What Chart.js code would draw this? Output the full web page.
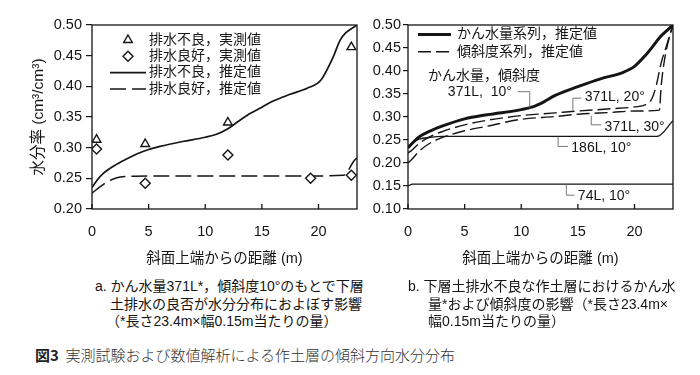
<!DOCTYPE html>
<html>
<head>
<meta charset="utf-8">
<script src="https://cdn.jsdelivr.net/npm/chart.js@4/dist/chart.umd.min.js"></script>
<style>
  body { margin: 0; background: #fff; width: 700px; height: 375px; position: relative; overflow: hidden;
         font-family: "Liberation Sans", "Noto Sans CJK JP", sans-serif; color: #151515; }
  #wrapA { position: absolute; left: 0; top: 0; }
  #wrapB { position: absolute; left: 360px; top: 0; }
  .cap { position: absolute; font-size: 14px; line-height: 17.5px; white-space: nowrap; }
  .fig { position: absolute; left: 35px; top: 345px; font-size: 15px; line-height: 20px; white-space: nowrap;
         font-family: "Noto Sans CJK JP", sans-serif; font-weight: 300; color: #333; }
  .fig b { font-weight: 700; color: #222; }
</style>
</head>
<body>
<div id="wrapA"><canvas id="chartA" width="365" height="270"></canvas></div>
<div id="wrapB"><canvas id="chartB" width="340" height="270"></canvas></div>

<div class="cap" style="left:95px;top:278px">a. かん水量371L*，傾斜度10°のもとで下層</div>
<div class="cap" style="left:110px;top:296px">土排水の良否が水分分布におよぼす影響</div>
<div class="cap" style="left:106px;top:313px">（*長さ23.4m×幅0.15m当たりの量）</div>

<div class="cap" style="left:408px;top:278px">b. 下層土排水不良な作土層におけるかん水</div>
<div class="cap" style="left:428px;top:296px">量*および傾斜度の影響（*長さ23.4m×</div>
<div class="cap" style="left:428px;top:313px">幅0.15m当たりの量）</div>

<div class="fig"><b>図3</b>&nbsp;&nbsp;実測試験および数値解析による作土層の傾斜方向水分分布</div>

<script>
// ---- chart a: drainage comparison (371L, 10 deg) ----
const xTicks = [0, 5, 10, 15, 20];
const yTicksA = [0.20, 0.25, 0.30, 0.35, 0.40, 0.45, 0.50];
const yTicksB = [0.10, 0.15, 0.20, 0.25, 0.30, 0.35, 0.40, 0.45, 0.50];

const measPoorX = [0.4, 4.7, 12.0, 22.9];
const measPoorY = [0.313, 0.306, 0.341, 0.464];
const measGoodX = [0.4, 4.7, 12.0, 19.3, 22.9];
const measGoodY = [0.298, 0.242, 0.288, 0.250, 0.255];

const estPoorX = [0, 0.5, 1, 2, 3, 4, 5, 6, 8, 10, 11, 12, 13, 14, 15, 16, 17.5, 19, 20.2, 21.3, 21.9, 22.4, 23.4];
const estPoorY = [0.235, 0.248, 0.258, 0.271, 0.281, 0.290, 0.297, 0.302, 0.310, 0.317, 0.322, 0.331, 0.344, 0.356, 0.366, 0.376, 0.387, 0.397, 0.410, 0.448, 0.475, 0.487, 0.500];
const estGoodX = [0, 0.7, 1.3, 2.2, 3, 5, 10, 15, 20, 22.2, 23.2, 23.4];
const estGoodY = [0.226, 0.236, 0.244, 0.251, 0.253, 0.254, 0.254, 0.254, 0.254, 0.255, 0.280, 0.283];

// ---- chart b: irrigation amount and slope series ----
const s371_10X = [0, 0.5, 1, 2, 3, 5, 7, 10, 11, 12, 13, 15, 17, 19, 20, 21, 21.6, 22.3, 23, 23.4];
const s371_10Y = [0.233, 0.246, 0.257, 0.270, 0.280, 0.296, 0.305, 0.316, 0.322, 0.333, 0.347, 0.366, 0.383, 0.397, 0.410, 0.435, 0.453, 0.475, 0.491, 0.500];
const s186_10X = [0, 0.5, 1, 2, 3, 8, 15, 22.0, 23.4];
const s186_10Y = [0.236, 0.246, 0.252, 0.256, 0.258, 0.258, 0.258, 0.258, 0.292];
const s74_10X = [0, 0.4, 5, 15, 23.4];
const s74_10Y = [0.150, 0.154, 0.154, 0.154, 0.154];
const s371_20X = [0, 0.3, 1, 2, 3, 5, 7, 10, 13, 15, 18, 20, 21, 21.5, 21.9, 22.35, 22.8, 23.4];
const s371_20Y = [0.222, 0.227, 0.243, 0.258, 0.268, 0.283, 0.293, 0.303, 0.309, 0.313, 0.318, 0.322, 0.327, 0.338, 0.366, 0.417, 0.453, 0.500];
const s371_30X = [0, 0.3, 1, 2, 3, 5, 7, 10, 13, 15, 18, 20, 22.2, 22.35, 22.65, 23.1, 23.4];
const s371_30Y = [0.200, 0.207, 0.226, 0.244, 0.255, 0.270, 0.280, 0.295, 0.301, 0.306, 0.310, 0.313, 0.315, 0.366, 0.424, 0.475, 0.500];

const xTitle = "斜面上端からの距離 (m)";
const yTitle = "水分率 (cm³/cm³)";

const pts = (xs, ys) => xs.map((x, i) => ({ x, y: ys[i] }));
const INK = "#151515";

Chart.defaults.font.family = '"Liberation Sans", "Noto Sans CJK JP", sans-serif';
Chart.defaults.font.size = 14;
Chart.defaults.color = INK;

// frame box, inner x ticks, in-plot legend and callouts
const frame = {
  id: "frame",
  afterDraw(chart, args, opts) {
    const { ctx, chartArea: a, scales: { x, y } } = chart;
    ctx.save();
    ctx.strokeStyle = INK;
    ctx.lineWidth = 1.3;
    ctx.strokeRect(a.left, a.top, a.width, a.height);
    xTicks.forEach(v => {
      const px = x.getPixelForValue(v);
      ctx.beginPath(); ctx.moveTo(px, a.bottom); ctx.lineTo(px, a.bottom - 5); ctx.stroke();
    });

    // legend
    const lg = opts.legend;
    if (lg) {
      ctx.font = '14px "Liberation Sans", "Noto Sans CJK JP", sans-serif';
      ctx.textBaseline = "middle";
      ctx.textAlign = "left";
      lg.items.forEach((idx, i) => {
        const ds = chart.data.datasets[idx];
        const yy = lg.y + i * lg.dy;
        ctx.fillStyle = INK;
        ctx.fillText(ds.label, lg.textX, yy);
        if (ds.showLine === false) {
          ctx.fillStyle = "#fff";
          ctx.strokeStyle = INK;
          ctx.lineWidth = ds.borderWidth;
          Chart.helpers.drawPoint(ctx, { pointStyle: ds.pointStyle, radius: ds.pointRadius, borderWidth: ds.borderWidth, rotation: 0 },
            (lg.x0 + lg.x1) / 2, yy);
        } else {
          ctx.strokeStyle = INK;
          ctx.lineWidth = ds.borderWidth;
          ctx.setLineDash(ds.borderDash || []);
          ctx.beginPath(); ctx.moveTo(lg.x0, yy); ctx.lineTo(lg.x1, yy); ctx.stroke();
          ctx.setLineDash([]);
        }
      });
    }

    // callouts
    (opts.notes || []).forEach(n => {
      if (n.path) {
        ctx.strokeStyle = "#777";
        ctx.lineWidth = 1;
        ctx.beginPath();
        n.path.forEach((p, i) => {
          const px = x.getPixelForValue(p[0]), py = y.getPixelForValue(p[1]);
          if (i === 0) ctx.moveTo(px, py); else ctx.lineTo(px, py);
        });
        ctx.stroke();
      }
      ctx.fillStyle = INK;
      ctx.font = '14px "Liberation Sans", "Noto Sans CJK JP", sans-serif';
      ctx.textBaseline = "middle";
      ctx.textAlign = "left";
      ctx.fillText(n.text, x.getPixelForValue(n.at[0]), y.getPixelForValue(n.at[1]));
    });
    ctx.restore();
  }
};

function xScale() {
  return {
    type: "linear", min: 0, max: 23.4,
    afterBuildTicks: s => { s.ticks = xTicks.map(v => ({ value: v })); },
    grid: { display: false, drawTicks: false },
    border: { display: false },
    ticks: { padding: 14, font: { size: 14.5 }, callback: v => String(v) },
    title: { display: true, text: xTitle, padding: { top: 0, bottom: 2 }, font: { size: 14.5 } },
    afterFit: s => { s.height = 61; }
  };
}

function yScale(min, ticks, width, withTitle) {
  return {
    type: "linear", min, max: 0.5,
    afterBuildTicks: s => { s.ticks = ticks.map(v => ({ value: v })); },
    grid: { drawOnChartArea: false, drawTicks: true, tickLength: withTitle ? 6 : 5, color: INK, lineWidth: 1.2 },
    border: { display: false },
    ticks: { padding: withTitle ? 4 : 2, font: { size: 14.5 }, callback: v => Number(v).toFixed(2) },
    title: { display: withTitle, text: yTitle, padding: { top: 29 }, font: { size: 15.5 } },
    afterFit: s => { s.width = width; }
  };
}

const lineDs = (label, xs, ys, width, dash) => ({
  label, data: pts(xs, ys), borderColor: INK, borderWidth: width, borderDash: dash,
  pointRadius: 0, fill: false, cubicInterpolationMode: "monotone", showLine: true
});
const markDs = (label, xs, ys, style) => ({
  label, data: pts(xs, ys), showLine: false, pointStyle: style, pointRadius: 5,
  pointBackgroundColor: "#fff", pointBorderColor: INK, pointBorderWidth: 1.4, borderWidth: 1.4, borderColor: INK
});

new Chart(document.getElementById("chartA").getContext("2d"), {
  type: "line",
  data: {
    datasets: [
      markDs("排水不良，実測値", measPoorX, measPoorY, "triangle"),
      markDs("排水良好，実測値", measGoodX, measGoodY, "rectRot"),
      lineDs("排水不良，推定値", estPoorX, estPoorY, 1.7, []),
      lineDs("排水良好，推定値", estGoodX, estGoodY, 1.5, [16, 6])
    ]
  },
  options: {
    responsive: false, animation: false, devicePixelRatio: 1,
    layout: { padding: { left: 0, top: 25, right: 8, bottom: 0 } },
    plugins: {
      legend: { display: false }, tooltip: { enabled: false },
      frame: { legend: { items: [0, 1, 2, 3], x0: 110, x1: 146, textX: 149, y: 40, dy: 16.3 } }
    },
    scales: { x: xScale(), y: yScale(0.2, yTicksA, 92, true) }
  },
  plugins: [frame]
});

new Chart(document.getElementById("chartB").getContext("2d"), {
  type: "line",
  data: {
    datasets: [
      lineDs("かん水量系列，推定値", s371_10X, s371_10Y, 3, []),
      lineDs("傾斜度系列，推定値", s371_20X, s371_20Y, 1.4, [13, 5]),
      lineDs("371L, 30°", s371_30X, s371_30Y, 1.4, [13, 5]),
      lineDs("186L, 10°", s186_10X, s186_10Y, 1.3, []),
      lineDs("74L, 10°", s74_10X, s74_10Y, 1.3, [])
    ]
  },
  options: {
    responsive: false, animation: false, devicePixelRatio: 1,
    layout: { padding: { left: 0, top: 25, right: 27, bottom: 0 } },
    plugins: {
      legend: { display: false }, tooltip: { enabled: false },
      frame: {
        legend: { items: [0, 1], x0: 58, x1: 91, textX: 97, y: 34.5, dy: 17.3 },
        notes: [
          { text: "かん水量，傾斜度", at: [1.76, 0.389] },
          { text: "371L,  10°", at: [3.52, 0.354], path: [[9.7, 0.355], [10.75, 0.355], [10.75, 0.320]] },
          { text: "371L, 20°", at: [15.6, 0.343], path: [[15.3, 0.341], [14.56, 0.341], [14.56, 0.314]] },
          { text: "371L, 30°", at: [17.36, 0.279], path: [[16.18, 0.303], [16.18, 0.283], [17.06, 0.283]] },
          { text: "186L, 10°", at: [14.42, 0.232], path: [[13.25, 0.257], [13.25, 0.236], [14.13, 0.236]] },
          { text: "74L, 10°", at: [15.0, 0.127], path: [[13.98, 0.153], [13.98, 0.130], [14.7, 0.130]] }
        ]
      }
    },
    scales: { x: xScale(), y: yScale(0.1, yTicksB, 48, false) }
  },
  plugins: [frame]
});
</script>
</body>
</html>
